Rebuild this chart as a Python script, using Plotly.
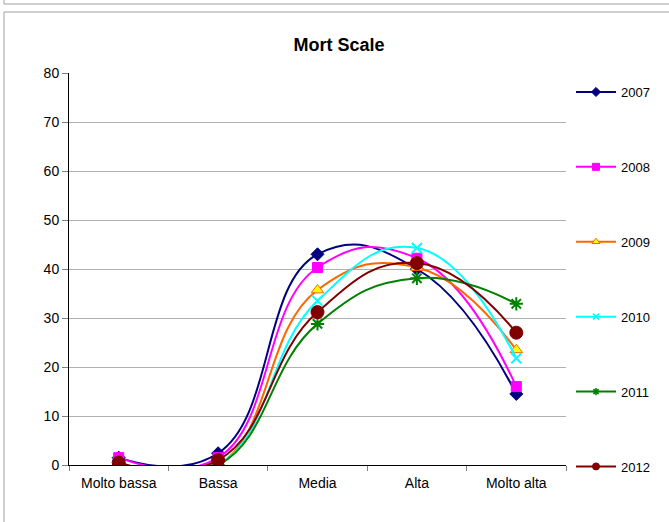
import plotly.graph_objects as go

categories = ["Molto bassa", "Bassa", "Media", "Alta", "Molto alta"]
years = ["2007", "2008", "2009", "2010", "2011", "2012"]
v2007 = [1.5, 2.4, 43.0, 40.0, 14.5]
v2008 = [1.5, 1.5, 40.3, 42.2, 16.0]
v2009 = [0.0, 0.0, 35.7, 40.3, 23.5]
v2010 = [0.5, 0.0, 33.5, 44.3, 21.8]
v2011 = [0.3, 0.0, 28.8, 38.1, 32.9]
v2012 = [0.5, 1.0, 31.2, 41.2, 27.0]
series = [v2007, v2008, v2009, v2010, v2011, v2012]
y_ticks = [0, 10, 20, 30, 40, 50, 60, 70, 80]

styles = [
    dict(color="#000080", symbol="diamond", size=10, lsize=7, fill="#000080"),
    dict(color="#FF00FF", symbol="square", size=10, lsize=7, fill="#FF00FF"),
    dict(color="#FF6600", symbol="triangle-up", size=11, lsize=7, fill="#FFFF00"),
    dict(color="#00FFFF", symbol="x-thin-open", size=10, lsize=6, fill="#00FFFF"),
    dict(color="#008000", symbol="asterisk-open", size=11, lsize=6, fill="#008000"),
    dict(color="#800000", symbol="circle", size=13, lsize=7, fill="#800000"),
]

fig = go.Figure()
for name, vals, st in zip(years, series, styles):
    open_sym = st["symbol"] in ("x-thin-open", "asterisk-open")
    fig.add_trace(go.Scatter(
        x=categories, y=vals, name=name, mode="lines+markers",
        legendgroup=name, showlegend=False,
        line=dict(color=st["color"], width=2, shape="spline", smoothing=1.3),
        marker=dict(symbol=st["symbol"], size=st["size"], color=st["fill"],
                    line=dict(color=st["color"], width=2 if open_sym else 1)),
        cliponaxis=True,
    ))
    fig.add_trace(go.Scatter(
        x=[None], y=[None], name=name, mode="lines+markers",
        legendgroup=name, showlegend=True,
        line=dict(color=st["color"], width=2),
        marker=dict(symbol=st["symbol"], size=st["lsize"], color=st["fill"],
                    line=dict(color=st["color"], width=1.5 if open_sym else 1)),
    ))

L, R, T, B = 69, 566, 73, 465
W, H = 669, 522
def px(x):
    return (x - L) / (R - L)
def py(y):
    return (B - y) / (B - T)

shapes = [
    dict(type="line", xref="paper", yref="paper", x0=px(4), x1=px(669), y0=py(4), y1=py(4),
         line=dict(color="#A0A0A0", width=1)),
    dict(type="line", xref="paper", yref="paper", x0=px(4), x1=px(669), y0=py(12), y1=py(12),
         line=dict(color="#A0A0A0", width=1)),
    dict(type="line", xref="paper", yref="paper", x0=px(4), x1=px(4), y0=py(12), y1=py(522),
         line=dict(color="#A0A0A0", width=1)),
    dict(type="line", xref="paper", yref="paper", x0=px(4), x1=px(4), y0=py(0), y1=py(4),
         line=dict(color="#A0A0A0", width=1)),
]

fig.update_layout(
    width=W, height=H,
    margin=dict(l=L, r=W - R, t=T, b=H - B, autoexpand=False),
    paper_bgcolor="white", plot_bgcolor="white",
    font=dict(family="Liberation Sans, Arial, sans-serif", size=13, color="black"),
    title=dict(text="<b>Mort Scale</b>", x=339 / W, xanchor="center", y=1 - 45 / H, yanchor="middle",
               font=dict(size=18, color="black")),
    showlegend=True,
    legend=dict(x=px(571), xanchor="left", y=py(77), yanchor="top", tracegroupgap=55,
                font=dict(size=13), bgcolor="rgba(0,0,0,0)", itemwidth=40, maxheight=H),
    shapes=shapes,
)
fig.update_xaxes(
    type="category", showline=True, linecolor="black", linewidth=1,
    ticks="outside", tickson="boundaries", ticklen=5, tickcolor="#808080",
    showgrid=False, range=[-0.5, 4.5], tickfont=dict(size=14), ticklabelstandoff=5,
)
fig.update_yaxes(
    range=[0, 80], tickvals=y_ticks, showline=True, linecolor="black", linewidth=1,
    ticks="outside", ticklen=6, tickcolor="#808080", tickfont=dict(size=14),
    showgrid=True, gridcolor="#B0B0B0", gridwidth=1, zeroline=False,
)

fig.write_html("out.html", config={"displayModeBar": False},
               post_script="document.body.style.margin='0px';")
